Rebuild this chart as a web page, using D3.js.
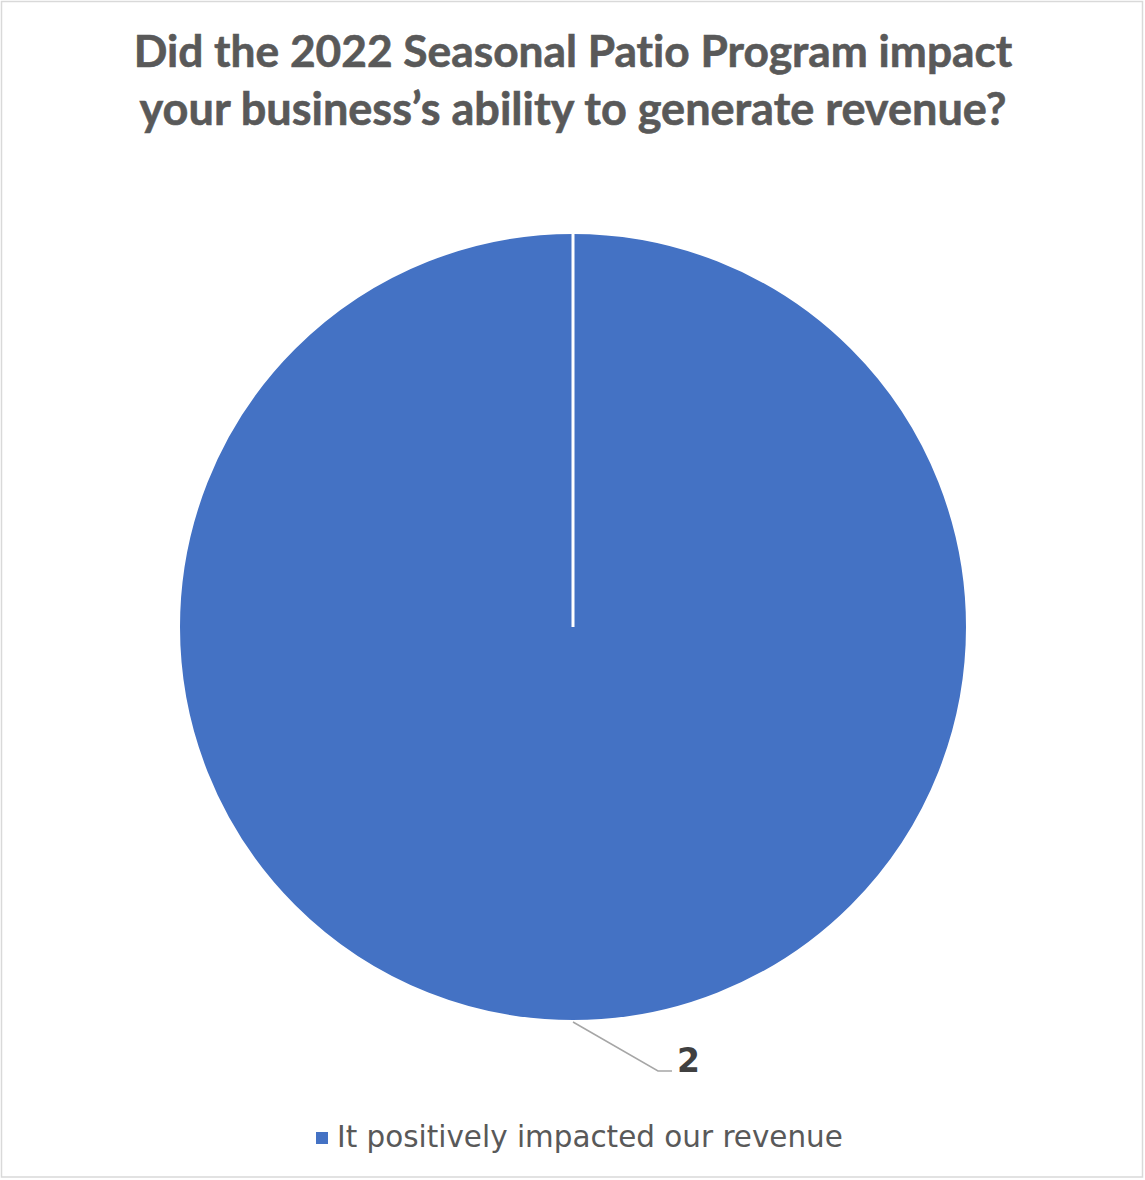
<!DOCTYPE html>
<html>
<head>
<meta charset="utf-8">
<script src="https://cdn.jsdelivr.net/npm/d3@7"></script>
<style>
  html, body { margin: 0; padding: 0; background: #fff; }
  svg { display: block; }
  text { font-variant-ligatures: none; font-feature-settings: "liga" 0, "clig" 0; }
</style>
</head>
<body>
<svg id="chart" width="1145" height="1180"></svg>
<script>
// Survey responses
const categories = ["It positively impacted our revenue"];
const counts = [2];
const colors = ["#4472C4"];
const titleLines = [
  "Did the 2022 Seasonal Patio Program impact",
  "your business\u2019s ability to generate revenue?"
];

const W = 1145, H = 1180;
const svg = d3.select("#chart");

// Chart frame
svg.append("rect")
  .attr("x", 1.5).attr("y", 1.5)
  .attr("width", W - 4).attr("height", H - 4.5)
  .attr("fill", "#fff")
  .attr("stroke", "#d9d9d9")
  .attr("stroke-width", 1.5);

// Title, fitted to its line width
const titleWidths = [879, 867];
const titleY = [67, 125];
titleLines.forEach((line, i) => {
  const t = svg.append("text")
    .attr("x", 573).attr("y", titleY[i])
    .attr("text-anchor", "middle")
    .attr("font-family", "Lato, 'Open Sans', sans-serif")
    .attr("font-weight", 700)
    .attr("font-size", 40)
    .attr("fill", "#595959")
    .attr("stroke", "#595959")
    .attr("stroke-width", 0.6)
    .text(line);
  const w = t.node().getComputedTextLength();
  t.attr("font-size", 40 * titleWidths[i] / w);
});

// Pie
const cx = 573, cy = 627, r = 394;
const pie = d3.pie().sort(null).value(d => d)(counts);
const arc = d3.arc().innerRadius(0).outerRadius(r);

const g = svg.append("g").attr("transform", `translate(${cx},${cy})`);
g.selectAll("path.slice")
  .data(pie)
  .join("path")
  .attr("class", "slice")
  .attr("d", arc)
  .attr("fill", (d, i) => colors[i])
  .attr("stroke", "#fff")
  .attr("stroke-width", 2)
  .attr("stroke-linejoin", "round");

// Slice edges along the radii (a full-circle arc has no radial sides of its own)
g.selectAll("line.edge")
  .data(pie)
  .join("line")
  .attr("class", "edge")
  .attr("x1", 0).attr("y1", 0)
  .attr("x2", d => Math.sin(d.startAngle) * r)
  .attr("y2", d => -Math.cos(d.startAngle) * r)
  .attr("stroke", "#fff")
  .attr("stroke-width", 3);

// Data labels with leader lines
pie.forEach((d, i) => {
  const a = (d.startAngle + d.endAngle) / 2;
  const px = Math.sin(a) * (r + 1), py = -Math.cos(a) * (r + 1);
  const elbowX = px + 85, elbowY = py + 49;
  g.append("polyline")
    .attr("points", `${px},${py} ${elbowX},${elbowY} ${elbowX + 14},${elbowY}`)
    .attr("fill", "none")
    .attr("stroke", "#a6a6a6")
    .attr("stroke-width", 1.5);
  g.append("text")
    .attr("x", elbowX + 19).attr("y", elbowY + 1)
    .attr("font-family", "'DejaVu Sans', Verdana, sans-serif")
    .attr("font-weight", 700)
    .attr("font-size", 33)
    .attr("fill", "#404040")
    .text(counts[i]);
});

// Legend
const legend = svg.append("g");
categories.forEach((c, i) => {
  legend.append("rect")
    .attr("x", 316).attr("y", 1132)
    .attr("width", 12).attr("height", 12)
    .attr("fill", colors[i]);
  const t = legend.append("text")
    .attr("x", 337).attr("y", 1147)
    .attr("font-family", "'DejaVu Sans', Verdana, sans-serif")
    .attr("font-size", 26)
    .attr("fill", "#595959")
    .text(c);
  const w = t.node().getComputedTextLength();
  t.attr("font-size", 26 * 506 / w);
});
</script>
</body>
</html>
